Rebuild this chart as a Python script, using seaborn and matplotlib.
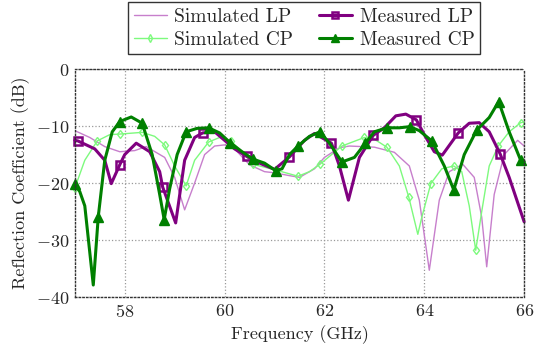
import matplotlib
matplotlib.use('Agg')
import matplotlib.pyplot as plt
import seaborn as sns
import numpy as np

# ---- data (GHz, dB) ----
freq_sim_lp = [57.0, 57.3, 57.6, 57.9, 58.2, 58.43, 58.8, 59.0, 59.2, 59.4,
               59.6, 59.8, 60.0, 60.2, 60.5, 60.8, 61.0, 61.3, 61.5, 61.8,
               62.0, 62.3, 62.5, 63.0, 63.4, 63.7, 63.9, 64.1, 64.3, 64.5,
               64.77, 65.0, 65.15, 65.25, 65.4, 65.6, 65.87, 66.0]
db_sim_lp = [-10.8, -12.0, -13.6, -14.5, -14.3, -13.6, -15.5, -19.0, -24.7, -20.0,
             -15.0, -13.5, -13.3, -14.0, -16.8, -18.0, -18.2, -18.7, -19.0, -17.5,
             -15.5, -13.8, -13.5, -13.7, -14.6, -17.0, -23.0, -35.3, -23.0, -18.0,
             -16.7, -19.0, -26.0, -34.7, -22.0, -15.0, -12.5, -13.5]

freq_sim_cp = [57.0, 57.2, 57.45, 57.7, 57.9, 58.35, 58.6, 58.8, 59.0, 59.23,
               59.4, 59.68, 59.9, 60.12, 60.35, 60.57, 61.02, 61.47, 61.7, 61.91,
               62.35, 62.8, 63.0, 63.25, 63.5, 63.69, 63.87, 63.95, 64.13, 64.35,
               64.59, 64.75, 64.9, 65.03, 65.15, 65.3, 65.48, 65.7, 65.93, 66.0]
db_sim_cp = [-20.9, -16.0, -12.6, -11.5, -11.4, -11.1, -11.8, -13.3, -17.0, -20.5,
             -16.0, -12.8, -12.0, -12.6, -14.5, -16.7, -17.7, -18.8, -18.0, -16.7,
             -13.5, -12.0, -12.3, -13.7, -17.0, -22.5, -29.0, -26.0, -20.1, -17.5,
             -17.0, -18.0, -24.0, -31.8, -25.0, -17.0, -13.5, -11.0, -9.4, -9.3]
mark_sim_cp = [57.0, 57.45, 57.9, 58.35, 58.8, 59.23, 59.68, 60.12, 60.57, 61.02,
               61.47, 61.91, 62.35, 62.8, 63.25, 63.69, 64.13, 64.59, 65.03, 65.48,
               65.93]

freq_meas_lp = [57.0, 57.06, 57.4, 57.6, 57.73, 57.9, 58.0, 58.23, 58.5, 58.7,
                58.76, 59.02, 59.2, 59.4, 59.56, 59.8, 60.0, 60.2, 60.44, 60.7,
                61.0, 61.3, 61.6, 61.8, 62.14, 62.3, 62.48, 62.7, 62.98, 63.2,
                63.43, 63.63, 63.84, 64.0, 64.2, 64.36, 64.68, 64.9, 65.1, 65.3,
                65.52, 65.7, 66.0]
db_meas_lp = [-12.5, -12.6, -14.0, -16.0, -20.1, -16.8, -15.0, -13.0, -14.5, -18.0,
              -20.7, -27.0, -16.0, -12.0, -11.2, -11.0, -12.5, -14.0, -15.3, -16.5,
              -17.6, -15.4, -12.5, -11.3, -13.0, -17.0, -23.0, -15.5, -11.6, -10.3,
              -8.2, -7.9, -8.9, -11.5, -14.5, -15.1, -11.2, -9.5, -9.4, -11.0,
              -14.9, -19.0, -26.8]
mark_meas_lp = [57.06, 57.9, 58.76, 59.56, 60.44, 61.3, 62.14, 62.98, 63.84, 64.68,
                65.52]

freq_meas_cp = [57.0, 57.1, 57.2, 57.37, 57.47, 57.6, 57.75, 57.9, 58.13, 58.35,
                58.55, 58.7, 58.79, 58.9, 59.05, 59.23, 59.45, 59.68, 59.9, 60.11,
                60.35, 60.57, 60.8, 61.02, 61.15, 61.3, 61.47, 61.7, 61.91, 62.1,
                62.35, 62.6, 62.82, 63.0, 63.25, 63.5, 63.71, 63.9, 64.15, 64.4,
                64.59, 64.8, 65.05, 65.3, 65.49, 65.7, 65.93, 66.0]
db_meas_cp = [-20.2, -21.5, -24.0, -37.9, -25.9, -16.0, -11.0, -9.2, -8.4, -9.5,
              -15.0, -22.0, -26.4, -21.0, -15.0, -11.0, -10.4, -10.3, -11.2, -12.9,
              -14.5, -15.8, -16.5, -17.8, -17.5, -15.0, -13.5, -11.8, -11.0, -13.0,
              -16.3, -15.5, -13.0, -11.0, -10.3, -10.3, -10.1, -10.8, -12.6, -17.0,
              -21.2, -15.0, -10.7, -8.5, -5.7, -11.0, -16.0, -16.2]
mark_meas_cp = [57.0, 57.47, 57.9, 58.35, 58.79, 59.23, 59.68, 60.11, 60.57, 61.02,
                61.47, 61.91, 62.35, 62.82, 63.25, 63.71, 64.15, 64.59, 65.05, 65.49,
                65.93]

sns.set_theme(style="white")
plt.rcParams['font.family'] = ['cmr10', 'DejaVu Serif']
plt.rcParams['mathtext.fontset'] = 'cm'
plt.rcParams['axes.formatter.use_mathtext'] = True


def mask(freq, marks):
    f = np.array(freq)
    return [bool(np.any(np.isclose(x, marks))) for x in f]


fig = plt.figure(figsize=(5.46, 3.6), dpi=100)
ax = fig.add_axes([0.137, 0.175, 0.823, 0.633])

sns.lineplot(x=freq_sim_lp, y=db_sim_lp, ax=ax, sort=False, color='#c77fcc',
             lw=1.0, label='Simulated LP')
sns.lineplot(x=freq_sim_cp, y=db_sim_cp, ax=ax, sort=False, color='#7dfa7d',
             lw=1.0, marker='d', markevery=mask(freq_sim_cp, mark_sim_cp),
             markersize=4.5, markerfacecolor='none', markeredgecolor='#7dfa7d',
             markeredgewidth=1.0, label='Simulated CP', clip_on=False)
sns.lineplot(x=freq_meas_lp, y=db_meas_lp, ax=ax, sort=False, color='#800080',
             lw=2.2, marker='s', markevery=mask(freq_meas_lp, mark_meas_lp),
             markersize=5.5, markerfacecolor='none', markeredgecolor='#800080',
             markeredgewidth=1.8, label='Measured LP', clip_on=False)
sns.lineplot(x=freq_meas_cp, y=db_meas_cp, ax=ax, sort=False, color='#008000',
             lw=2.2, marker='^', markevery=mask(freq_meas_cp, mark_meas_cp),
             markersize=6.5, markerfacecolor='#008000', markeredgecolor='#008000',
             markeredgewidth=1.0, label='Measured CP', clip_on=False)

ax.set_xlim(57, 66)
ax.set_ylim(-40, 0)
ax.set_xticks([58, 60, 62, 64, 66])
ax.set_xticks([57, 59, 61, 63, 65], minor=True)
ax.set_yticks([0, -10, -20, -30, -40])
ax.set_yticks([-5, -15, -25, -35], minor=True)
ax.grid(True, which='major', linestyle=':', color='#999999', linewidth=0.9)
ax.tick_params(which='both', direction='in', length=2.5, width=0.8,
               color='#555555', labelsize=13, pad=4)
for sp in ax.spines.values():
    sp.set_linestyle(':')
    sp.set_color('#333333')
    sp.set_linewidth(1.0)

ax.set_xlabel('Frequency (GHz)', fontsize=13)
ax.set_ylabel('Reflection Coefficient (dB)', fontsize=13)

handles, labels = ax.get_legend_handles_labels()
ax.get_legend().remove()
fig.legend(handles, labels, ncol=2, loc='upper center',
           bbox_to_anchor=(304 / 546, 1 - 2 / 360), borderaxespad=0,
           fancybox=False, edgecolor='#333333', framealpha=1, fontsize=14,
           handlelength=1.7, borderpad=0.3, labelspacing=0.25,
           columnspacing=1.3, handletextpad=0.4, markerscale=0.85)

plt.savefig('out.png', dpi=100)
plt.close()
